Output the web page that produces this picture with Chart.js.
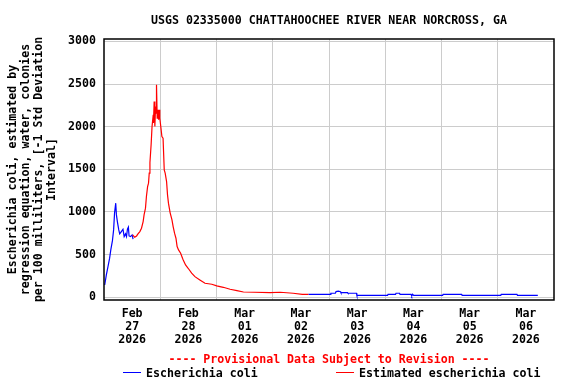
<!DOCTYPE html>
<html>
<head>
<meta charset="utf-8">
<script src="https://cdn.jsdelivr.net/npm/chart.js@4"></script>
<style>
  html, body { margin:0; padding:0; background:#fff; }
  #wrap { position:relative; width:576px; height:384px; overflow:hidden;
          font-family:"DejaVu Sans Mono", monospace; font-weight:bold; font-size:11.6px; }
  #chart { position:absolute; left:0; top:0; }
  .txt { position:absolute; line-height:14px; white-space:pre; }
  .swatch { position:absolute; height:1px; width:18px; }
</style>
</head>
<body>
<div id="wrap">
  <canvas id="chart" width="576" height="384"></canvas>
  <div class="txt" style="left:104px; width:450px; top:13px; text-align:center; color:#000">USGS 02335000 CHATTAHOOCHEE RIVER NEAR NORCROSS, GA</div>
  <div class="txt" style="left:104px; width:450px; top:352px; text-align:center; color:#ff0000">---- Provisional Data Subject to Revision ----</div>
  <div class="swatch" style="left:123px; top:372px; background:#0000ff"></div>
  <div class="txt" style="left:146px; top:366px; color:#000">Escherichia coli</div>
  <div class="swatch" style="left:336px; top:372px; background:#ff0000"></div>
  <div class="txt" style="left:359px; top:366px; color:#000">Estimated escherichia coli</div>
</div>
<script>
// ── Data (hours since Feb 27 2026 00:00) ─────────────────────
const blueHoursA = [0.3, 1.0, 1.7, 2.4, 2.9, 3.6, 4.1, 4.5, 5.0, 5.3, 5.7, 6.3, 6.7, 7.4, 8.1, 8.6, 9.2, 9.6, 10.0, 10.4, 10.7, 11.3, 12.0, 12.4];
const blueValsA  = [144, 262, 359, 458, 555, 664, 790, 986, 1103, 966, 887, 790, 743, 770, 798, 711, 743, 711, 798, 822, 719, 711, 731, 681];

const redHours = [12.2, 13.1, 13.9, 14.5, 15.3, 16.0, 16.7, 17.1, 17.7, 18.1, 18.6, 19.0, 19.3, 19.6, 20.1, 20.5,
                  21.0, 21.1, 21.4, 21.7, 22.0, 22.3, 22.4, 22.7, 23.0, 23.3, 23.5, 23.8, 24.3, 24.7, 25.2, 25.7,
                  26.1, 26.7, 27.1, 27.5, 28.2, 29.0, 29.5, 30.1, 30.7, 31.2, 31.8, 32.7, 33.5, 33.8, 34.8, 35.9,
                  37.4, 38.8, 40.9, 43.1, 46.0, 48.1, 50.9, 53.8, 56.7, 59.5, 64.0, 70.9, 75.2, 80.7, 84.6, 87.2];
const redVals  = [731, 704, 719, 743, 770, 810, 887, 966, 1045, 1181, 1298, 1338, 1455, 1580, 1788, 2002,
                  2140, 2042, 2296, 2002, 2237, 2160, 2492, 2101, 2198, 2081, 2198, 2101, 1984, 1885, 1866, 1494,
                  1455, 1357, 1201, 1103, 993, 907, 829, 751, 692, 594, 555, 516, 458, 438, 379, 340,
                  282, 242, 203, 164, 153, 133, 117, 94, 77, 62, 59, 54, 59, 47, 35, 35];

const blueHoursB = [87.2, 96.6, 96.8, 98.7, 99.0, 100.0, 100.9, 101.1, 103.9, 104.1, 107.7, 107.9, 121.0, 121.2,
                    124.4, 124.6, 126.1, 126.3, 131.0, 131.3, 131.6, 132.1, 144.5, 144.7, 152.6, 152.8, 169.3,
                    169.5, 176.2, 176.4, 185.1];
const blueValsB  = [35, 35, 47, 47, 66, 72, 66, 54, 54, 47, 47, 23, 23, 35,
                    35, 47, 47, 35, 35, 15, 35, 23, 23, 35, 35, 23, 23,
                    35, 35, 23, 23];

const yTicks     = [0, 500, 1000, 1500, 2000, 2500, 3000];
const dayLines   = [24, 48, 72, 96, 120, 144, 168];           // midnight grid lines
const labelHours = [12, 36, 60, 84, 108, 132, 156, 180];      // noon label positions
const tickMonths = ['Feb', 'Feb', 'Mar', 'Mar', 'Mar', 'Mar', 'Mar', 'Mar'];
const tickDays   = ['27', '28', '01', '02', '03', '04', '05', '06'];
const tickYear   = '2026';

const FONT = { family: '"DejaVu Sans Mono", monospace', size: 11.6, weight: 'bold', lineHeight: '13px' };

function pts(hours, vals) {
  return hours.map((h, i) => ({ x: h, y: vals[i] }));
}

// plot frame drawn on top of grid/lines
const framePlugin = {
  id: 'frame',
  afterDatasetsDraw(chart) {
    const { ctx, chartArea: a } = chart;
    ctx.save();
    ctx.strokeStyle = '#000';
    ctx.lineWidth = 1.5;
    ctx.strokeRect(a.left, a.top, a.right - a.left, a.bottom - a.top);
    ctx.restore();
  }
};

new Chart(document.getElementById('chart'), {
  type: 'line',
  data: {
    datasets: [
      { data: pts(redHours, redVals),     borderColor: '#ff0000' },
      { data: pts(blueHoursA, blueValsA), borderColor: '#0000ff' },
      { data: pts(blueHoursB, blueValsB), borderColor: '#0000ff' },
    ]
  },
  options: {
    responsive: false,
    animation: false,
    parsing: false,
    layout: { padding: { left: 0, top: 39, right: 22, bottom: 0 } },
    elements: {
      line: { borderWidth: 1.2, tension: 0, fill: false },
      point: { radius: 0 }
    },
    plugins: { legend: { display: false }, tooltip: { enabled: false }, title: { display: false } },
    scales: {
      x: {
        type: 'linear',
        min: 0, max: 192,
        afterFit: s => { s.height = 84; },
        afterBuildTicks: s => {
          s.ticks = [...dayLines, ...labelHours].sort((a, b) => a - b).map(v => ({ value: v }));
        },
        border: { display: false },
        grid: {
          drawTicks: false,
          color: c => (c.tick && dayLines.includes(c.tick.value)) ? '#cccccc' : 'rgba(0,0,0,0)',
          lineWidth: 1
        },
        ticks: {
          autoSkip: false,
          maxRotation: 0,
          padding: 7,
          color: '#000',
          font: FONT,
          callback: v => {
            const i = labelHours.indexOf(v);
            return i < 0 ? '' : [tickMonths[i], tickDays[i], tickYear];
          }
        }
      },
      y: {
        min: -32, max: 3028,
        afterFit: s => { s.width = 104; },
        afterBuildTicks: s => { s.ticks = yTicks.map(v => ({ value: v })); },
        border: { display: false },
        grid: { drawTicks: false, color: '#cccccc', lineWidth: 1 },
        ticks: {
          padding: 8,
          color: '#000',
          font: FONT,
          callback: v => String(v)
        },
        title: {
          display: true,
          text: ['Escherichia coli, estimated by',
                 'regression equation, water, colonies',
                 'per 100 milliliters, [-1 Std Deviation',
                 'Interval]'],
          color: '#000',
          font: FONT,
          padding: { top: 6, bottom: 0 }
        }
      }
    }
  },
  plugins: [framePlugin]
});
</script>
</body>
</html>
